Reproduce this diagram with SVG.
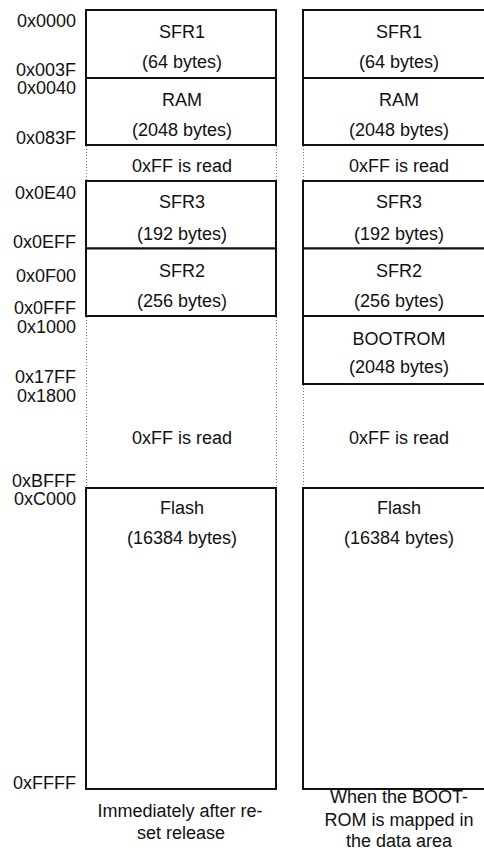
<svg xmlns="http://www.w3.org/2000/svg" width="484" height="861" viewBox="0 0 484 861">
<style>
text{font-family:"Liberation Sans",Arial,sans-serif;font-size:18px;fill:#111}
.c{text-anchor:middle}
.a{text-anchor:end}
.box{fill:#fff;stroke:#111;stroke-width:2}
.dot{stroke:#777;stroke-width:1;stroke-dasharray:1 2;fill:none}
</style>
<rect width="484" height="861" fill="#fff"/>
<g id="connectors">
<path class="dot" d="M86.5 146V181M276.5 146V181M86.5 317V488M276.5 317V488"/>
<path class="dot" d="M303.5 146V181M303.5 385V488"/>
</g>
<g id="addresses">
<text class="a" x="76" y="27">0x0000</text>
<text class="a" x="76" y="76">0x003F</text>
<text class="a" x="76" y="94">0x0040</text>
<text class="a" x="76" y="144">0x083F</text>
<text class="a" x="76" y="199">0x0E40</text>
<text class="a" x="76" y="248">0x0EFF</text>
<text class="a" x="76" y="282">0x0F00</text>
<text class="a" x="76" y="314">0x0FFF</text>
<text class="a" x="76" y="333">0x1000</text>
<text class="a" x="76" y="383">0x17FF</text>
<text class="a" x="76" y="402">0x1800</text>
<text class="a" x="76" y="487">0xBFFF</text>
<text class="a" x="76" y="505">0xC000</text>
<text class="a" x="76" y="789">0xFFFF</text>
</g>
<g id="left-sfr1"><rect class="box" x="86" y="10" width="190" height="68"/><text class="c" x="182" y="38">SFR1</text><text class="c" x="182" y="68">(64 bytes)</text></g>
<g id="left-ram"><rect class="box" x="86" y="78" width="190" height="67"/><text class="c" x="182" y="106">RAM</text><text class="c" x="182" y="136">(2048 bytes)</text></g>
<g id="left-gap1"><text class="c" x="182" y="172">0xFF is read</text></g>
<g id="left-sfr3"><rect class="box" x="86" y="181" width="190" height="67.5"/><text class="c" x="182" y="208">SFR3</text><text class="c" x="182" y="240">(192 bytes)</text></g>
<g id="left-sfr2"><rect class="box" x="86" y="248.5" width="190" height="67.5"/><text class="c" x="182" y="277">SFR2</text><text class="c" x="182" y="307">(256 bytes)</text></g>
<g id="left-gap2"><text class="c" x="182" y="444">0xFF is read</text></g>
<g id="left-flash"><rect class="box" x="86" y="488" width="190" height="301"/><text class="c" x="182" y="514">Flash</text><text class="c" x="182" y="544">(16384 bytes)</text></g>
<g id="left-caption"><text class="c" x="180" y="817">Immediately after re-</text><text class="c" x="181" y="839">set release</text></g>
<g id="right-sfr1"><rect class="box" x="303" y="10" width="192" height="68"/><text class="c" x="399" y="38">SFR1</text><text class="c" x="399" y="68">(64 bytes)</text></g>
<g id="right-ram"><rect class="box" x="303" y="78" width="192" height="67"/><text class="c" x="399" y="106">RAM</text><text class="c" x="399" y="136">(2048 bytes)</text></g>
<g id="right-gap1"><text class="c" x="399" y="172">0xFF is read</text></g>
<g id="right-sfr3"><rect class="box" x="303" y="181" width="192" height="67.5"/><text class="c" x="399" y="208">SFR3</text><text class="c" x="399" y="240">(192 bytes)</text></g>
<g id="right-sfr2"><rect class="box" x="303" y="248.5" width="192" height="67.5"/><text class="c" x="399" y="277">SFR2</text><text class="c" x="399" y="307">(256 bytes)</text></g>
<g id="right-bootrom"><rect class="box" x="303" y="316" width="192" height="68"/><text class="c" x="399" y="345">BOOTROM</text><text class="c" x="399" y="373">(2048 bytes)</text></g>
<g id="right-gap2"><text class="c" x="399" y="444">0xFF is read</text></g>
<g id="right-flash"><rect class="box" x="303" y="488" width="192" height="301"/><text class="c" x="399" y="514">Flash</text><text class="c" x="399" y="544">(16384 bytes)</text></g>
<g id="right-caption"><text class="c" x="399" y="803">When the BOOT-</text><text class="c" x="399" y="826">ROM is mapped in</text><text class="c" x="399" y="847">the data area</text></g>
</svg>
